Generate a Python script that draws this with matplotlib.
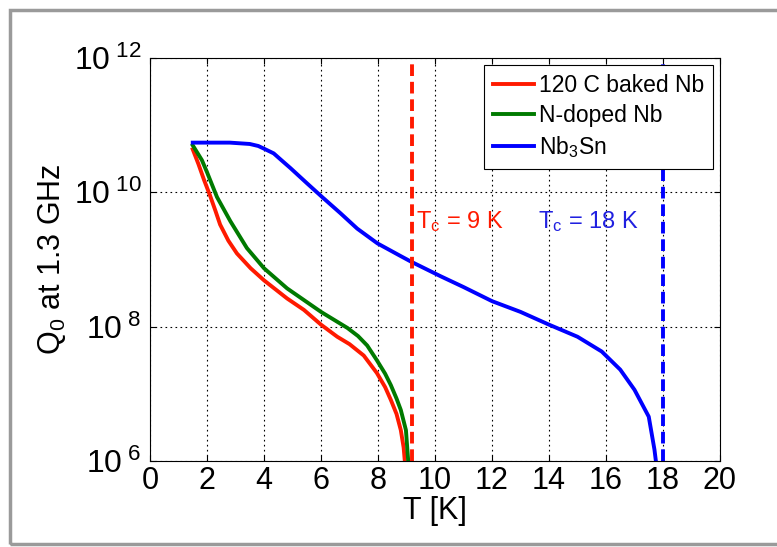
# Q0 vs temperature for Nb and Nb3Sn cavities
import matplotlib
matplotlib.use('Agg')
import matplotlib.pyplot as plt
from matplotlib.patches import Rectangle
import numpy as np

plt.rcParams['font.family'] = ['Liberation Sans', 'DejaVu Sans']
plt.rcParams['mathtext.default'] = 'regular'

# data (log10 of Q0)
T_baked = [1.5, 1.7, 1.9, 2.1, 2.3, 2.46, 2.75, 3.05, 3.53, 4.0, 4.81, 5.4, 6.0, 6.57,
           7.0, 7.5, 7.96, 8.25, 8.45, 8.65, 8.8, 8.9, 8.94]
logQ_baked = [10.64, 10.42, 10.18, 9.96, 9.72, 9.52, 9.28, 9.09, 8.87, 8.69, 8.42, 8.25, 8.03, 7.85,
              7.74, 7.57, 7.31, 7.1, 6.91, 6.7, 6.46, 6.2, 6.0]

T_ndoped = [1.5, 1.82, 2.0, 2.35, 2.82, 3.4, 4.0, 4.81, 6.0, 6.93, 7.3, 7.62, 7.96, 8.25,
            8.45, 8.65, 8.8, 8.98, 9.06]
logQ_ndoped = [10.70, 10.48, 10.30, 9.93, 9.57, 9.17, 8.87, 8.57, 8.22, 7.98, 7.86, 7.72, 7.50, 7.30,
               7.13, 6.93, 6.76, 6.46, 6.0]

T_nb3sn = [1.5, 2.8, 3.5, 3.8, 4.0, 4.34, 4.58, 4.93, 5.52, 6.04, 6.68, 7.27, 7.98, 8.8, 9.15,
           10.2, 11.0, 12.0, 13.0, 14.0, 15.0, 15.85, 16.5, 17.0, 17.5, 17.7, 17.75]
logQ_nb3sn = [10.74, 10.74, 10.72, 10.69, 10.65, 10.58, 10.49, 10.36, 10.13, 9.93, 9.69, 9.46, 9.24,
              9.05, 8.97, 8.75, 8.59, 8.38, 8.22, 8.03, 7.85, 7.63, 7.36, 7.06, 6.66, 6.17, 6.0]

Tc_nb = 9.2
Tc_nb3sn = 18.0

yticks = [1e6, 1e8, 1e10, 1e12]
ytick_labels = [r'$10^{\;6}$', r'$10^{\;8}$', r'$10^{\;10}$', r'$10^{\;12}$']

fig = plt.figure(figsize=(7.77, 5.47), dpi=100)
ax = fig.add_axes([150/777, 1-461/547, 570/777, 403/547])

# grey frame around the figure (open on the right)
fig.patches.append(Rectangle((10/777, 1-544/547), 1.2, 534/547, transform=fig.transFigure,
                             fill=False, edgecolor='#9a9a9a', linewidth=2.5, zorder=-1))

lw = 2.8
ax.plot(T_baked, 10**np.array(logQ_baked), color='#ff1a00', lw=lw, label='120 C baked Nb')
ax.plot(T_ndoped, 10**np.array(logQ_ndoped), color='#007a00', lw=lw, label='N-doped Nb')
ax.plot(T_nb3sn, 10**np.array(logQ_nb3sn), color='#0000ff', lw=lw, label='Nb$_3$Sn')

ax.axvline(Tc_nb, color='#ff1a00', lw=2.8, ls=(0, (3, 1.5)))
ax.axvline(Tc_nb3sn, color='#0000ff', lw=2.8, ls=(0, (3, 1.5)))

ax.text(9.35, 10**9.56, 'T$_c$ = 9 K', color='#ff1a00', fontsize=17, va='center')
ax.text(13.6, 10**9.56, 'T$_c$ = 18 K', color='#2020e0', fontsize=17, va='center')

ax.set_yscale('log')
ax.set_xlim(0, 20)
ax.set_ylim(1e6, 1e12)
ax.set_xticks(np.arange(0, 21, 2))
ax.set_yticks(yticks)
ax.set_yticklabels(ytick_labels)
ax.minorticks_off()
ax.tick_params(direction='in', labelsize=22, length=4, top=True, right=True)
ax.tick_params(axis='y', labelsize=23, pad=6)
ax.grid(True, color='black', ls=(0, (1.5, 3)), lw=0.8)

ax.set_xlabel('T [K]', fontsize=22, labelpad=0)
ax.set_ylabel('Q$_0$ at 1.3 GHz', fontsize=22, labelpad=4)

leg = ax.legend(loc='upper right', fontsize=16.5, fancybox=False, framealpha=1,
                edgecolor='black', handlelength=1.8, handletextpad=0.2,
                borderaxespad=0.3, labelspacing=0.3, borderpad=0.4)
leg.get_frame().set_linewidth(0.8)

fig.savefig('out.png', dpi=100)
